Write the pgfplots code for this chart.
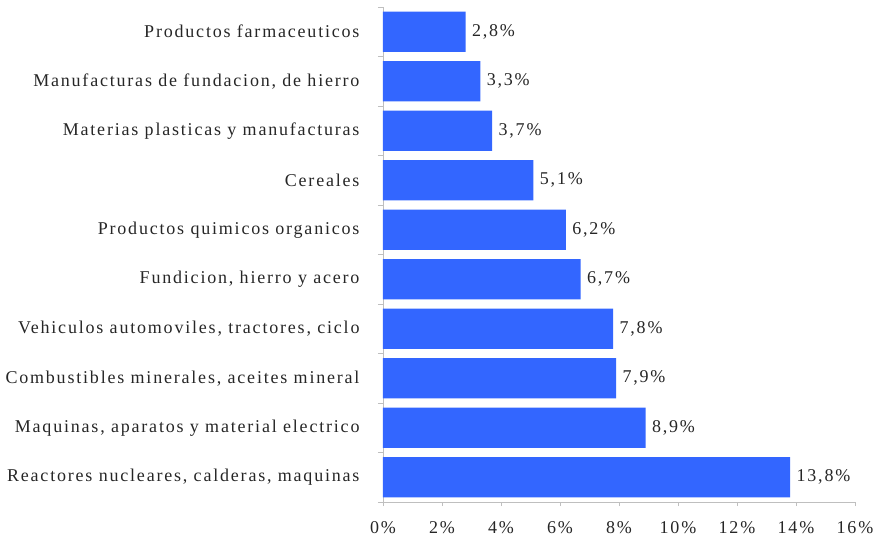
\documentclass[border=0pt]{standalone}
\usepackage{pgfplots}
\pgfplotsset{compat=1.18}
\usepackage{fontspec}
\setmainfont{Liberation Serif}[LetterSpace=10]
\definecolor{barblue}{HTML}{3366FF}
\definecolor{axgray}{HTML}{BFBFBF}
\newcommand{\lblfont}{\fontsize{18bp}{21bp}\selectfont}
\begin{document}
\begin{tikzpicture}
\begin{axis}[
  scale only axis,
  width=472bp, height=495bp,
  xbar, bar width=0.81,
  xmin=0, xmax=16, ymin=-0.5, ymax=9.5,
  axis x line*=bottom, axis y line*=left,
  axis line style={axgray},
  xtick={0,2,...,16},
  xticklabel={\pgfmathprintnumber{\tick}\%},
  ytick={0,...,9},
  yticklabels={{Reactores nucleares, calderas, maquinas},
    {Maquinas, aparatos y material electrico},
    {Combustibles minerales, aceites mineral},
    {Vehiculos automoviles, tractores, ciclo},
    {Fundicion, hierro y acero},
    Productos quimicos organicos,
    Cereales,
    Materias plasticas y manufacturas,
    {Manufacturas de fundacion, de hierro},
    Productos farmaceuticos},
  minor ytick={-0.5,0.5,...,9.5},
  tick align=outside,
  major tick length=4bp, minor tick length=5bp,
  x tick style={axgray},
  y tick style={draw=none},
  minor y tick style={axgray, draw=axgray},
  /pgf/number format/assume math mode=true,
  ticklabel style={font=\lblfont, text=black!85},
  xticklabel style={yshift=-12bp},
  yticklabel style={xshift=-16bp},
  nodes near coords={\pgfmathprintnumber[fixed,fixed zerofill,precision=1,use comma]{\pgfplotspointmeta}\%},
  nodes near coords style={font=\lblfont, text=black!85, xshift=3bp},
]
\addplot[fill=barblue, draw=none] coordinates {
  (13.8,0) (8.9,1) (7.9,2) (7.8,3) (6.7,4) (6.2,5) (5.1,6) (3.7,7) (3.3,8) (2.8,9)};
\end{axis}
\path (current axis.south west) ++(-383bp,-38bp) (current axis.north east) ++(31bp,7bp);
\end{tikzpicture}
\end{document}
